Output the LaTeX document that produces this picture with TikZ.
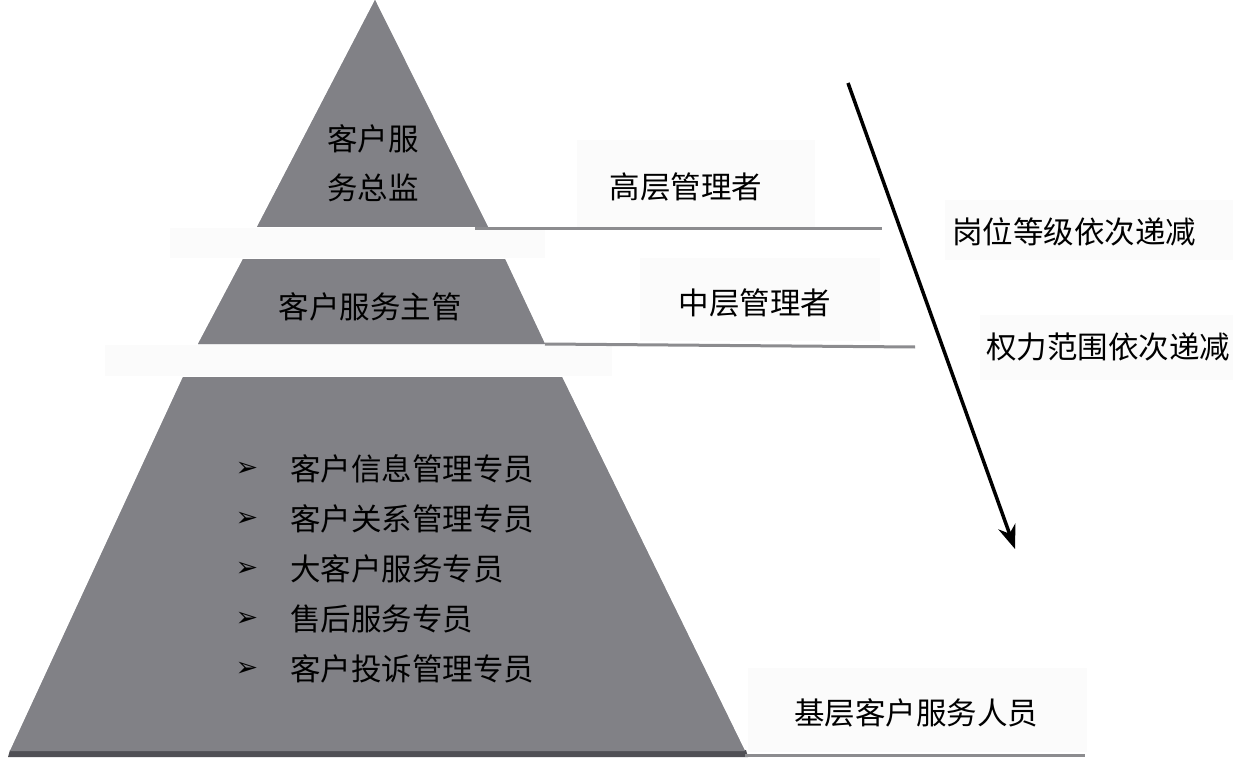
\documentclass[tikz,border=0pt]{standalone}
\usepackage{fontspec}
\setmainfont{Noto Sans CJK SC}
\newfontfamily\dingfont{DejaVu Sans}
\usepackage{xcolor}
\usepackage{tikz}
\usetikzlibrary{arrows.meta,positioning,calc}

\definecolor{tiergray}{RGB}{129,129,134}
\definecolor{bevelgray}{RGB}{170,170,173}
\definecolor{rulegray}{RGB}{140,140,143}
\definecolor{shadegray}{RGB}{80,80,85}
\definecolor{hazewhite}{RGB}{251,251,251}

\begin{document}
\begin{tikzpicture}[
  x=1pt, y=-1pt,
  font=\fontsize{30.5}{49}\selectfont,
  tier/.style={fill=tiergray},
  bevel/.style={fill=bevelgray},
  haze/.style={fill=hazewhite},
  rule/.style={draw=rulegray, line width=3pt},
  tag/.style={inner sep=0pt, align=center},
  arr/.style={-{Stealth[length=24pt, width=18pt]}, line width=3.5pt}
]
  \useasboundingbox (0,0) rectangle (1233,759);

  % faint panels behind the pyramid gaps and the labels
  \fill[haze] (170,228) rectangle (545,258);
  \fill[haze] (105,345) rectangle (612,376);
  \fill[haze] (577,140) rectangle (815,227);
  \fill[haze] (640,258) rectangle (880,341);
  \fill[haze] (945,200) rectangle (1233,260);
  \fill[haze] (980,315) rectangle (1233,380);
  \fill[haze] (748,668) rectangle (1087,752);

  % pyramid corners
  \coordinate (apex) at (375,0);
  \coordinate (tl) at (257,227);
  \coordinate (tr) at (488,227);
  \coordinate (ml) at (243,259);
  \coordinate (mr) at (505,259);
  \coordinate (mbl) at (198,344);
  \coordinate (mbr) at (545,344);
  \coordinate (bl) at (183,377);
  \coordinate (br) at (562,377);
  \coordinate (bbl) at (10,751);
  \coordinate (bbr) at (745,751);

  % light left edges
  \fill[bevel, xshift=-5pt] (apex) -- (tl) -- (tr) -- cycle;
  \fill[bevel, xshift=-5pt] (ml) -- (mbl) -- (mbr) -- (mr) -- cycle;
  \fill[bevel, xshift=-8pt] (bl) -- (bbl) -- (bbr) -- (br) -- cycle;
  \fill[shadegray] (10,750) -- (8,757) -- (748,757) -- (746,750) -- cycle;

  % tiers
  \fill[tier] (apex) -- (tl) -- (tr) -- cycle;
  \fill[tier] (ml) -- (mbl) -- (mbr) -- (mr) -- cycle;
  \fill[tier] (bl) -- (bbl) -- (bbr) -- (br) -- cycle;

  % level rules
  \coordinate (r1) at (882,229);
  \coordinate (r2) at (915,347);
  \coordinate (r3) at (1085,755);
  \draw[rule] (475,229) -- (r1);
  \draw[rule] (mbr) -- (r2);
  \draw[rule] (bbr |- r3) -- (r3);

  \node[tag] (director) at (373,163) {客户服\\务总监};
  \node[tag] (manager) at (370,307) {客户服务主管};
  \foreach \txt [count=\i] in {客户信息管理专员,客户关系管理专员,大客户服务专员,售后服务专员,客户投诉管理专员} {
    \node[tag, font=\dingfont\fontsize{27}{27}\selectfont] (dot\i) at (247,419+50*\i) {➢};
    \node[tag, anchor=west] (item\i) at (290,419+50*\i) {\txt};
  }

  \node[tag] (top) at (686,187) {高层管理者};
  \node[tag] (middle) at (755,303) {中层管理者};
  \node[tag] (base) at (916,713) {基层客户服务人员};
  \node[tag] (rank) at (1074,232) {岗位等级依次递减};
  \node[tag] (power) at (1108,347) {权力范围依次递减};

  \coordinate (from) at (848,83);
  \coordinate (to) at (1015,549);
  \draw[arr] (from) -- (to);
\end{tikzpicture}
\end{document}
